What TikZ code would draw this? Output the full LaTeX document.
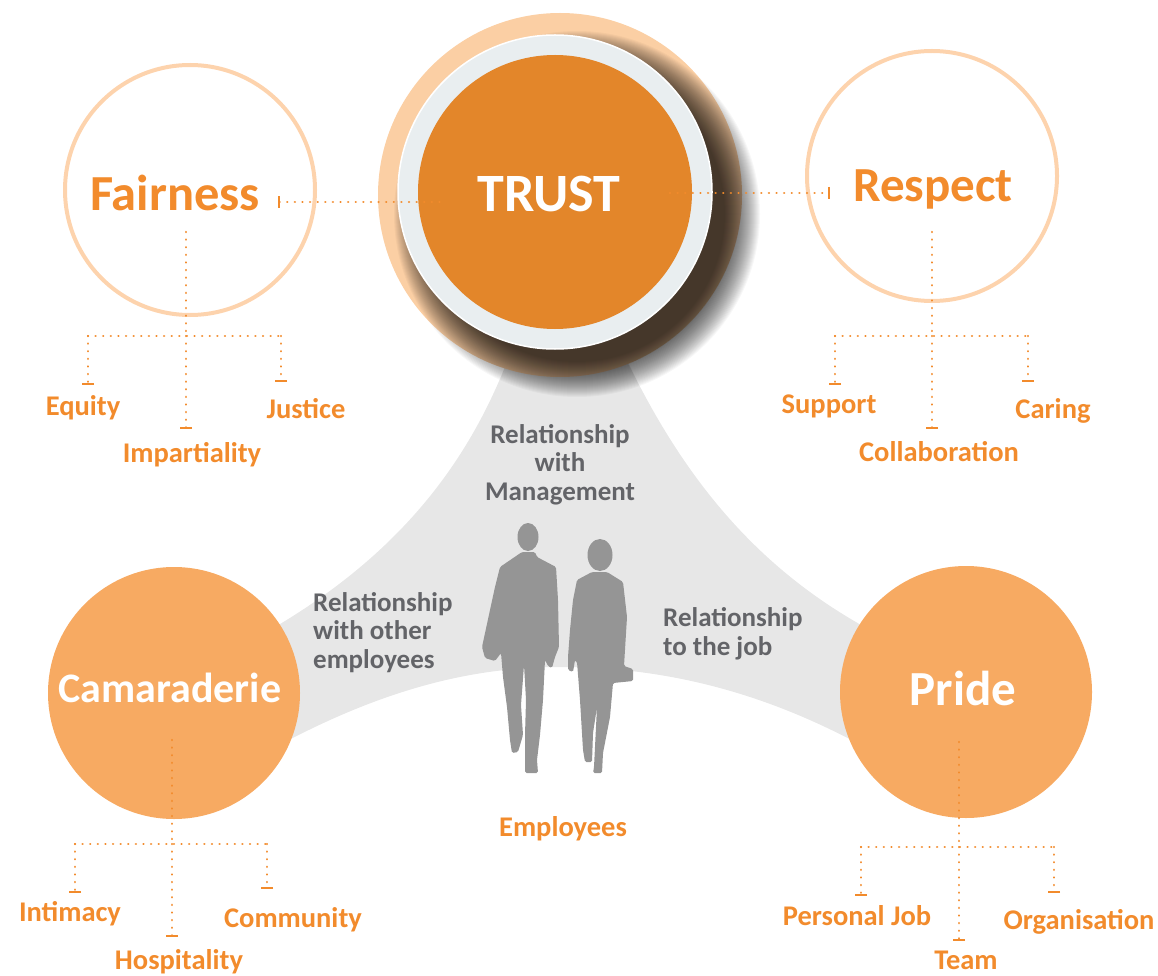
\documentclass[tikz,border=0pt]{standalone}
\usepackage{fontspec}
\setmainfont{Carlito}
\usetikzlibrary{arrows.meta}

\definecolor{peach}{HTML}{FBCFA4}
\definecolor{ringline}{HTML}{FDD3AD}
\definecolor{softorange}{HTML}{F7AA62}
\definecolor{trustorange}{HTML}{E3862A}
\definecolor{textorange}{HTML}{F28B2C}
\definecolor{graytext}{HTML}{636468}
\definecolor{fangray}{HTML}{E7E7E7}
\definecolor{figuregray}{HTML}{959595}
\definecolor{ringgray}{HTML}{E9EEF0}

\begin{document}
\begin{tikzpicture}[x=1pt,y=-1pt,
  every node/.style={inner sep=0pt},
  bigtxt/.style={font=\bfseries\fontsize{49}{51}\selectfont, anchor=base},
  leaftxt/.style={font=\bfseries\fontsize{28.5}{30}\selectfont, text=textorange, anchor=base},
  graylbl/.style={font=\bfseries\fontsize{27}{28.5}\selectfont, text=graytext},
  dotline/.style={draw=textorange, line width=2.5pt, line cap=round, dash pattern=on 0.01pt off 7.6pt},
  leafline/.style={dotline, -{Bar[width=12pt,line width=2.2pt]}},
  valuecircle/.style={circle, minimum size=250pt},
]
\useasboundingbox (0,0) rectangle (1158,976);

% grey band joining the three relationship areas
\fill[fangray] (515,340) .. controls (470,470) and (390,560) .. (270,630)
  -- (270,750) .. controls (380,690) and (470,667) .. (560,667)
  .. controls (680,667) and (780,700) .. (870,750)
  -- (870,630) .. controls (760,570) and (680,480) .. (615,335) -- cycle;

% TRUST: halo, soft drop shadow, light ring and orange disc
\node[circle, fill=peach, minimum size=364pt] (halo) at (560,195) {};
\foreach \i in {0,...,35}
  \fill[black, opacity=0.033] (577,214) circle[radius=148+\i*1];
\node[circle, fill=ringgray, draw=white, line width=1.5pt, minimum size=314pt] (ring) at (555,192) {};
\node[circle, fill=trustorange, minimum size=274pt] (trust) at (555,192) {};
\node[bigtxt, text=white, font=\bfseries\fontsize{54}{56}\selectfont] (trustT) at (549,212) {TRUST};

% outlined value circles
\node[valuecircle, draw=ringline, line width=4pt] (fair) at (190,190) {};
\node[valuecircle, draw=ringline, line width=4pt] (resp) at (932,176) {};
\node[bigtxt, text=textorange, font=\bfseries\fontsize{50.5}{52}\selectfont] (fairT) at (175,211) {Fairness};
\node[bigtxt, text=textorange] (respT) at (933,202) {Respect};

% filled value circles
\node[valuecircle, fill=softorange, minimum size=252pt] (cama) at (174,693) {};
\node[valuecircle, fill=softorange, minimum size=252pt] (pride) at (966,692) {};
\node[bigtxt, text=white, font=\bfseries\fontsize{42}{44}\selectfont] (camaT) at (170,702) {Camaraderie};
\node[bigtxt, text=white] (prideT) at (963,705) {Pride};

% links from TRUST to Fairness and Respect
\coordinate (fairLink) at (278,202);
\coordinate (trustW) at (440,202);
\coordinate (trustE) at (670,193);
\coordinate (respLink) at (830,193);
\draw[dotline, {Bar[width=12pt,line width=2.2pt]}-] (fairLink) -- (trustW);
\draw[leafline] (trustE) -- (respLink);

% dotted trees under each value
\foreach \p/\cx/\ty/\by/\lx/\rx/\le/\me/\re in {
    fa/186/232/336/88/281/385/429/382,
    rs/932/232/336/835/1028/385/429/382,
    ca/172/740/844/75/267/893/937/889,
    pr/959/742/847/861/1054/896/941/893}{
  \coordinate (\p-stem) at (\cx,\ty);
  \coordinate (\p-fork) at (\cx,\by);
  \coordinate (\p-left) at (\lx,\by);
  \coordinate (\p-right) at (\rx,\by);
  \coordinate (\p-a) at (\lx,\le);
  \coordinate (\p-b) at (\cx,\me);
  \coordinate (\p-c) at (\rx,\re);
  \draw[dotline] (\p-stem) -- (\p-fork);
  \draw[dotline] (\p-left) -- (\p-right);
  \draw[leafline] (\p-left) -- (\p-a);
  \draw[leafline] (\p-fork) -- (\p-b);
  \draw[leafline] (\p-right) -- (\p-c);
}

% leaf labels
\node[leaftxt] (equity) at (83,415) {Equity};
\node[leaftxt] (impart) at (192,462) {Impartiality};
\node[leaftxt] (justice) at (306,418) {Justice};
\node[leaftxt] (support) at (829,413) {Support};
\node[leaftxt] (collab) at (939,461) {Collaboration};
\node[leaftxt] (caring) at (1053,418) {Caring};
\node[leaftxt] (intimacy) at (70,921) {Intimacy};
\node[leaftxt] (hospit) at (179,969) {Hospitality};
\node[leaftxt] (commun) at (293,927) {Community};
\node[leaftxt] (persjob) at (857,925) {Personal Job};
\node[leaftxt] (team) at (966,969) {Team};
\node[leaftxt] (organis) at (1079,929) {Organisation};
\node[leaftxt] (employees) at (563,836) {Employees};

% relationship captions (anchored on the baseline of the last line)
\node[graylbl, align=center, anchor=base] (relMgmt) at (560,500) {Relationship\\with\\Management};
\node[graylbl, align=left, anchor=base west] (relEmp) at (313,668) {Relationship\\with other\\employees};
\node[graylbl, align=left, anchor=base west] (relJob) at (663,655) {Relationship\\to the job};

% two walking figures
\fill[figuregray] (528,537) ellipse[x radius=10.5, y radius=14];
\fill[figuregray, rounded corners=1.5pt] (522,552) -- (500,567) -- (495,587) -- (490,610) -- (482,647)
  -- (485,658) -- (495,661) -- (501,653) -- (503,677) -- (507,707) -- (510,740) -- (512,753)
  -- (518,752) -- (523,735) -- (521,705) -- (524,665) -- (526,700) -- (525,735) -- (525,773)
  -- (538,773) -- (537,760) -- (540,735) -- (543,700) -- (545,660) -- (548,666) -- (552,668)
  -- (555,657) -- (559,647) -- (558,600) -- (556,567) -- (537,557) -- (535,552) -- cycle;
\fill[figuregray] (600,555) ellipse[x radius=12.5, y radius=16];
\fill[figuregray, rounded corners=1.5pt] (592,572) -- (577,580) -- (573,600) -- (570,630) -- (568,657)
  -- (568,670) -- (573,672) -- (575,660) -- (577,662) -- (580,700) -- (583,750) -- (585,762)
  -- (592,762) -- (593,733) -- (597,707) -- (594,767) -- (593,773) -- (602,773) -- (603,753)
  -- (610,717) -- (613,683) -- (633,681) -- (633,669) -- (624,666) -- (627,617) -- (623,582)
  -- (607,572) -- cycle;
\end{tikzpicture}
\end{document}
